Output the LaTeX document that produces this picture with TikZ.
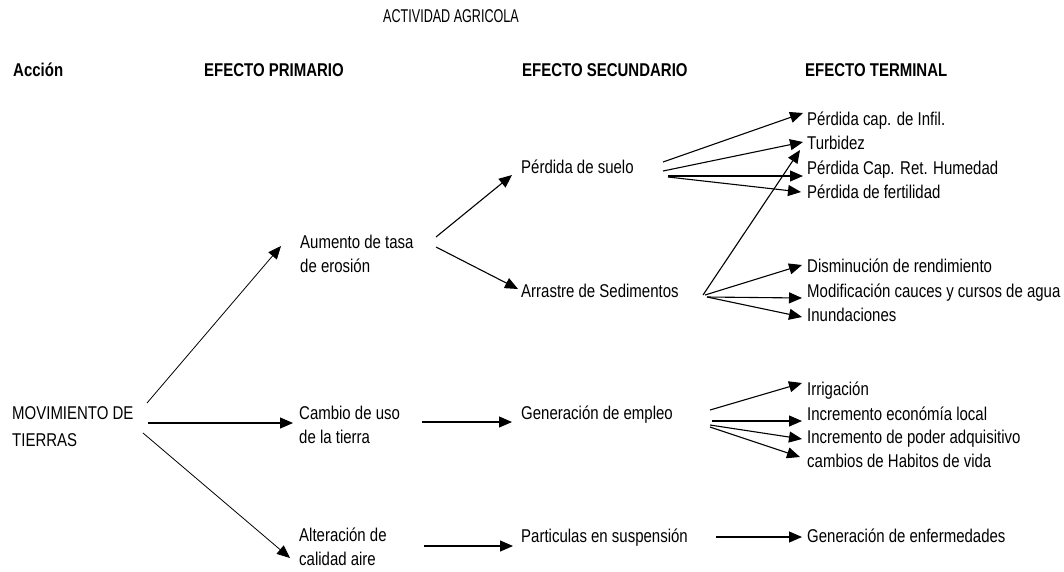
\documentclass[tikz,border=0pt]{standalone}
\usepackage{fontspec}
\setmainfont{Liberation Sans}[FakeStretch=0.81]
\newfontfamily\narrowfont{Liberation Sans}[FakeStretch=0.68]
\usetikzlibrary{arrows.meta}
\begin{document}
\begin{tikzpicture}[x=1pt,y=-1pt,
  lbl/.style={anchor=base west,inner sep=0pt,font=\fontsize{18.5}{24}\selectfont},
  two/.style={lbl,align=left},
  hdr/.style={lbl,font=\fontsize{18.5}{24}\selectfont\bfseries},
  arr/.style={-{Triangle[length=13pt,width=11pt]},line width=1.1pt},
  arrthin/.style={arr,line width=0.8pt}]
\useasboundingbox (0,0) rectangle (1064,571);
% title and headers
\node[lbl,font=\fontsize{18.5}{24}\selectfont\narrowfont] (title) at (383,22.7) {ACTIVIDAD AGRICOLA};
\node[hdr] (h1) at (13,76) {Acción};
\node[hdr] (h2) at (204,76) {EFECTO PRIMARIO};
\node[hdr] (h3) at (522,76) {EFECTO SECUNDARIO};
\node[hdr] (h4) at (805,76) {EFECTO TERMINAL};
% action (base = last line)
\node[two,font=\fontsize{18.5}{27}\selectfont] (mov) at (12,446) {MOVIMIENTO DE\\TIERRAS};
% primary (base = last line)
\node[two] (aum) at (300,272) {Aumento de tasa\\de erosión};
\node[two] (cam) at (299,443) {Cambio de uso\\de la tierra};
\node[two] (alt) at (299,565) {Alteración de\\calidad aire};
% secondary
\node[lbl] (ps) at (521,173) {Pérdida de suelo};
\node[lbl] (ars) at (521,297) {Arrastre de Sedimentos};
\node[lbl] (gen) at (521,419) {Generación de empleo};
\node[lbl] (par) at (521,542) {Particulas en suspensión};
% terminal
\node[lbl] (t1) at (807,125) {Pérdida cap. de Infil.};
\node[lbl] (t2) at (807,149) {Turbidez};
\node[lbl] (t3) at (807,174) {Pérdida Cap. Ret. Humedad};
\node[lbl] (t4) at (807,198) {Pérdida de fertilidad};
\node[lbl] (t5) at (807,272) {Disminución de rendimiento};
\node[lbl] (t6) at (807,297) {Modificación cauces y cursos de agua};
\node[lbl] (t7) at (807,321) {Inundaciones};
\node[lbl] (t8) at (807,395) {Irrigación};
\node[lbl] (t9) at (807,420) {Incremento económía local};
\node[lbl] (t10) at (807,443) {Incremento de poder adquisitivo};
\node[lbl] (t11) at (807,467) {cambios de Habitos de vida};
\node[lbl] (t12) at (807,542) {Generación de enfermedades};
% action -> primary
\draw[arrthin] ([shift={(135,-43)}]mov.base west) -- ([shift={(-19,-26)}]aum.base west);
\draw[arr] ([shift={(136,-23)}]mov.base west) -- ([shift={(-6,-20)}]cam.base west);
\draw[arrthin] ([shift={(131,-13)}]mov.base west) -- ([shift={(-9,-7)}]alt.base west);
% primary -> secondary
\draw[arr] ([shift={(136,-35)}]aum.base west) -- ([shift={(-9,2)}]ps.base west);
\draw[arr] ([shift={(136,-25)}]aum.base west) -- ([shift={(-3,-8)}]ars.base west);
\draw[arr] ([shift={(123,-21)}]cam.base west) -- ([shift={(-9,3)}]gen.base west);
\draw[arr] ([shift={(125,-19)}]alt.base west) -- ([shift={(-8,4)}]par.base west);
% secondary -> terminal
\draw[arr] ([shift={(142,-11)}]ps.base west) -- ([shift={(-4,-12)}]t1.base west);
\draw[arr] ([shift={(142,-2)}]ps.base west) -- ([shift={(-4,-7)}]t2.base west);
\draw[arr] ([shift={(147,3)}]ps.base west) -- ([shift={(-4,2)}]t3.base west);
\draw[arr] ([shift={(147,4)}]ps.base west) -- ([shift={(-6,-6)}]t4.base west);
\draw[arr] ([shift={(182,-2)}]ars.base west) -- ([shift={(-7,1)}]t2.base west);
\draw[arr] ([shift={(184,-2)}]ars.base west) -- ([shift={(-5,-7)}]t5.base west);
\draw[arr] ([shift={(186,0)}]ars.base west) -- ([shift={(-5,1)}]t6.base west);
\draw[arr] ([shift={(186,0)}]ars.base west) -- ([shift={(-5,-4)}]t7.base west);
\draw[arr] ([shift={(189,-9)}]gen.base west) -- ([shift={(-5,-12)}]t8.base west);
\draw[arr] ([shift={(191,2)}]gen.base west) -- ([shift={(-5,1)}]t9.base west);
\draw[arr] ([shift={(189,6)}]gen.base west) -- ([shift={(-5,-4)}]t10.base west);
\draw[arr] ([shift={(189,8)}]gen.base west) -- ([shift={(-7,-10)}]t11.base west);
\draw[arr] ([shift={(195,-5)}]par.base west) -- ([shift={(-5,-5)}]t12.base west);
\end{tikzpicture}
\end{document}
